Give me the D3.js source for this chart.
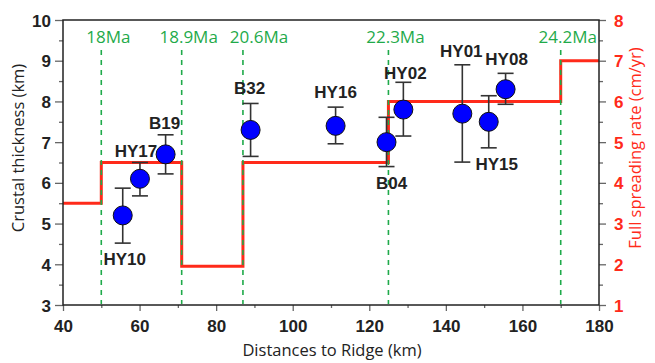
<!DOCTYPE html>
<html>
<head>
<meta charset="utf-8">
<script src="https://cdn.jsdelivr.net/npm/d3@7/dist/d3.min.js"></script>
<style>
  body { margin: 0; background: #fff; }
  svg { display: block; }
</style>
</head>
<body>
<svg id="chart"></svg>
<script>
// crustal thickness samples
const samples   = ["HY10", "HY17", "B19", "B32", "HY16", "B04", "HY02", "HY01", "HY15", "HY08"];
const distance  = [55.6, 60.1, 66.8, 89.0, 111.2, 124.5, 128.9, 144.3, 151.2, 155.6];
const thickness = [5.2, 6.1, 6.7, 7.3, 7.4, 7.0, 7.8, 7.7, 7.5, 8.3];
const errLow    = [4.52, 5.68, 6.22, 6.65, 6.96, 6.40, 7.15, 6.51, 6.86, 7.93];
const errHigh   = [5.87, 6.50, 7.18, 7.95, 7.86, 7.61, 8.47, 8.90, 8.14, 8.69];

// magnetic ages
const ageLabels   = ["18Ma", "18.9Ma", "20.6Ma", "22.3Ma", "24.2Ma"];
const ageDistance = [50, 71, 87, 125, 170];

// spreading rate steps
const rateBreaks = [40, 50, 71, 87, 125, 170, 180];
const rateValues = [3.5, 4.5, 1.95, 4.5, 6.0, 7.0];

const xTicks = [40, 60, 80, 100, 120, 140, 160, 180];
const yTicks = [3, 4, 5, 6, 7, 8, 9, 10];
const rTicks = [1, 2, 3, 4, 5, 6, 7, 8];

const W = 655, H = 363;
const margin = { top: 20, right: 56, bottom: 58, left: 63 };

const svg = d3.select("#chart").attr("width", W).attr("height", H);

const x = d3.scaleLinear().domain([40, 180]).range([margin.left, W - margin.right]);
const y = d3.scaleLinear().domain([3, 10]).range([H - margin.bottom, margin.top]);
const yr = d3.scaleLinear().domain([1, 8]).range([H - margin.bottom, margin.top]);

const bold = "'Liberation Sans', Arial, sans-serif";
const plain = "'Open Sans', 'Noto Sans', sans-serif";
const red = "#ff2a1a";
const green = "#1faa4a";
const tickGrey = "#666";

// axes: majors with labels, minors without
function styleAxis(g, color) {
  g.select(".domain").remove();
  g.selectAll(".tick line").attr("stroke", tickGrey).attr("stroke-width", 1.3);
  g.selectAll(".tick text")
    .attr("fill", color)
    .style("font-family", bold)
    .style("font-weight", "bold")
    .style("font-size", "17px");
}

svg.append("g")
  .attr("transform", `translate(0,${H - margin.bottom})`)
  .call(d3.axisBottom(x).tickValues(d3.range(50, 180, 20)).tickSize(3).tickFormat(""))
  .call(g => styleAxis(g, "#222"));
svg.append("g")
  .attr("transform", `translate(0,${H - margin.bottom})`)
  .call(d3.axisBottom(x).tickValues(xTicks).tickSize(6).tickPadding(9))
  .call(g => styleAxis(g, "#222"));

svg.append("g")
  .attr("transform", `translate(${margin.left},0)`)
  .call(d3.axisLeft(y).tickValues(d3.range(3.5, 10, 1)).tickSize(4).tickFormat(""))
  .call(g => styleAxis(g, "#222"));
svg.append("g")
  .attr("transform", `translate(${margin.left},0)`)
  .call(d3.axisLeft(y).tickValues(yTicks).tickSize(8).tickPadding(4).tickFormat(d3.format("d")))
  .call(g => styleAxis(g, "#222"))
  .call(g => g.selectAll(".tick text").attr("dy", "0.36em"));

svg.append("g")
  .attr("transform", `translate(${W - margin.right},0)`)
  .call(d3.axisRight(yr).tickValues(d3.range(1.5, 8, 1)).tickSize(4).tickFormat(""))
  .call(g => styleAxis(g, red));
svg.append("g")
  .attr("transform", `translate(${W - margin.right},0)`)
  .call(d3.axisRight(yr).tickValues(rTicks).tickSize(7).tickPadding(8).tickFormat(d3.format("d")))
  .call(g => styleAxis(g, red))
  .call(g => g.selectAll(".tick text").attr("dy", "0.36em"));

// spreading rate step line
const stepPts = rateBreaks.map((b, i) => [b, rateValues[Math.min(i, rateValues.length - 1)]]);
const step = d3.line().x(d => x(d[0])).y(d => yr(d[1])).curve(d3.curveStepAfter);
svg.append("path")
  .datum(stepPts)
  .attr("d", step)
  .attr("fill", "none")
  .attr("stroke", red)
  .attr("stroke-width", 3);

// age lines + labels
const ageNudge = { "20.6Ma": 16 };
const ages = ageLabels.map((l, i) => ({ label: l, d: ageDistance[i] }));
svg.append("g").selectAll("line")
  .data(ages)
  .join("line")
  .attr("x1", d => x(d.d)).attr("x2", d => x(d.d))
  .attr("y1", 50).attr("y2", H - margin.bottom - 1)
  .attr("stroke", green)
  .attr("stroke-width", 1.6)
  .attr("stroke-dasharray", "5 5");
svg.append("g").selectAll("text")
  .data(ages)
  .join("text")
  .attr("x", d => x(d.d) + (ageNudge[d.label] || 7))
  .attr("y", 43)
  .attr("text-anchor", "middle")
  .attr("fill", green)
  .style("font-family", plain)
  .style("font-size", "17px")
  .text(d => d.label);

// frame
svg.append("rect")
  .attr("x", margin.left).attr("y", margin.top)
  .attr("width", W - margin.left - margin.right)
  .attr("height", H - margin.top - margin.bottom)
  .attr("fill", "none")
  .attr("stroke", "#222")
  .attr("stroke-width", 1.5);

// samples with error bars
const pts = samples.map((s, i) => ({
  name: s, d: distance[i], t: thickness[i], lo: errLow[i], hi: errHigh[i]
}));
const eb = svg.append("g").attr("stroke", "#333").attr("stroke-width", 1.6);
pts.forEach(p => {
  eb.append("line").attr("x1", x(p.d)).attr("x2", x(p.d)).attr("y1", y(p.lo)).attr("y2", y(p.hi));
  [p.lo, p.hi].forEach(v => {
    eb.append("line").attr("x1", x(p.d) - 8).attr("x2", x(p.d) + 8).attr("y1", y(v)).attr("y2", y(v));
  });
});
svg.append("g").selectAll("circle")
  .data(pts)
  .join("circle")
  .attr("cx", d => x(d.d))
  .attr("cy", d => y(d.t))
  .attr("r", 9.5)
  .attr("fill", "#0000ff")
  .attr("stroke", "#111")
  .attr("stroke-width", 1);

// sample labels: placement relative to each point
const place = {
  HY10: [2, 50], HY17: [-4, -22], B19: [-1, -25], B32: [-1, -36], HY16: [0, -28],
  B04: [5, 47], HY02: [2, -31], HY01: [-1, -57], HY15: [8, 48], HY08: [1, -24]
};
svg.append("g").selectAll("text")
  .data(pts)
  .join("text")
  .attr("x", d => x(d.d) + place[d.name][0])
  .attr("y", d => y(d.t) + place[d.name][1])
  .attr("text-anchor", "middle")
  .attr("fill", "#222")
  .style("font-family", bold)
  .style("font-weight", "bold")
  .style("font-size", "17px")
  .text(d => d.name);

// axis titles
const titleMid = 148;
svg.append("text")
  .attr("transform", `translate(24,${titleMid}) rotate(-90)`)
  .attr("text-anchor", "middle")
  .attr("fill", "#222")
  .style("font-family", plain)
  .style("font-size", "16.5px")
  .text("Crustal thickness (km)");
svg.append("text")
  .attr("transform", `translate(641,${titleMid}) rotate(-90)`)
  .attr("text-anchor", "middle")
  .attr("fill", red)
  .style("font-family", plain)
  .style("font-size", "16.5px")
  .text("Full spreading rate (cm/yr)");
svg.append("text")
  .attr("x", 332)
  .attr("y", 356)
  .attr("text-anchor", "middle")
  .attr("fill", "#222")
  .style("font-family", plain)
  .style("font-size", "16.5px")
  .text("Distances to Ridge (km)");
</script>
</body>
</html>
